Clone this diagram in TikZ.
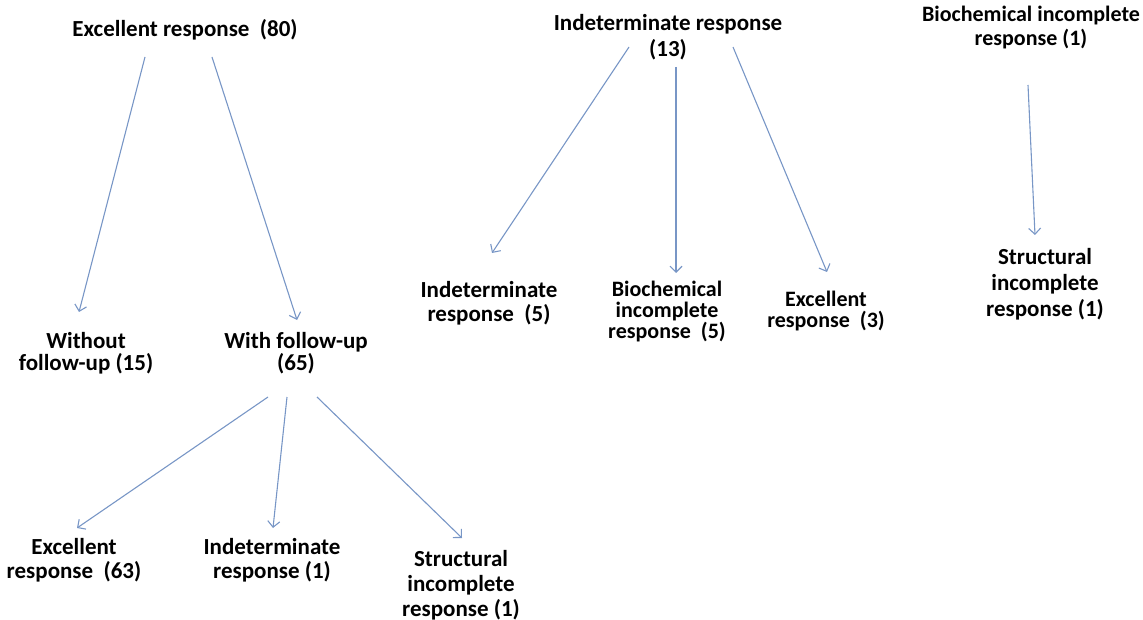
\documentclass[tikz,border=0pt]{standalone}
\usepackage{fontspec}
\setmainfont{Carlito}
\usetikzlibrary{arrows.meta}
\definecolor{arrowblue}{RGB}{120,150,198}
\begin{document}
\begin{tikzpicture}[x=1pt,y=-1pt,
  lbl/.style={align=center,inner sep=0pt,font=\fontsize{23}{24}\selectfont\bfseries},
  conn/.style={draw=arrowblue,line width=1.1pt,-{Straight Barb[length=6pt,width=12pt]}}]
\useasboundingbox (0,0) rectangle (1143,620);
% top level
\node[lbl] (n80) at (185,30) {Excellent response\ \ (80)};
\node[lbl,font=\fontsize{23}{26}\selectfont\bfseries] (n13) at (668,37) {Indeterminate response\\(13)};
\node[lbl,font=\fontsize{22}{24}\selectfont\bfseries] (nB1) at (1031,28) {Biochemical incomplete\\response (1)};
% second level
\node[lbl,font=\fontsize{23}{22}\selectfont\bfseries] (nwo) at (86,353) {Without\\follow-up (15)};
\node[lbl,font=\fontsize{23}{22}\selectfont\bfseries] (nw) at (296,353) {With follow-up\\(65)};
\node[lbl] (nI5) at (489,303) {Indeterminate\\response\ \ (5)};
\node[lbl,font=\fontsize{22}{21}\selectfont\bfseries] (nB5) at (667,312) {Biochemical\\incomplete\\response\ \ (5)};
\node[lbl,font=\fontsize{22}{21}\selectfont\bfseries] (nE3) at (826,311) {Excellent\\response\ \ (3)};
\node[lbl,font=\fontsize{23}{26}\selectfont\bfseries] (nS1) at (1045,284) {Structural\\incomplete\\response (1)};
% third level
\node[lbl] (nE63) at (74,560) {Excellent\\response\ \ (63)};
\node[lbl] (nI1) at (272,560.5) {Indeterminate\\response (1)};
\node[lbl,font=\fontsize{23}{25}\selectfont\bfseries] (nS1b) at (461,585) {Structural\\incomplete\\response (1)};
% connectors
\draw[conn] ([shift={(-40,27)}]n80.center) -- ([shift={(-7,-41)}]nwo.center);
\draw[conn] ([shift={(27,27)}]n80.center) -- ([shift={(1,-33)}]nw.center);
\draw[conn] ([shift={(-39,10)}]n13.center) -- ([shift={(3,-50)}]nI5.center);
\draw[conn] ([shift={(8,30)}]n13.center) -- ([shift={(9,-39)}]nB5.center);
\draw[conn] ([shift={(65,10)}]n13.center) -- ([shift={(1,-39)}]nE3.center);
\draw[conn] ([shift={(-3,57)}]nB1.center) -- ([shift={(-10,-49)}]nS1.center);
\draw[conn] ([shift={(-28,44)}]nw.center) -- ([shift={(3,-32)}]nE63.center);
\draw[conn] ([shift={(-9,44)}]nw.center) -- ([shift={(1,-32.5)}]nI1.center);
\draw[conn] ([shift={(21,44)}]nw.center) -- ([shift={(1,-47)}]nS1b.center);
\end{tikzpicture}
\end{document}
